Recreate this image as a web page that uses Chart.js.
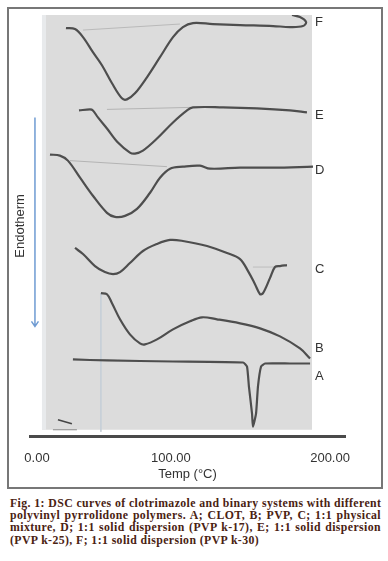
<!DOCTYPE html>
<html>
<head>
<meta charset="utf-8">
<script src="https://cdn.jsdelivr.net/npm/chart.js@4.4.1/dist/chart.umd.min.js"></script>
<style>
  html, body { margin: 0; padding: 0; background: #fff; }
  body { width: 388px; height: 561px; position: relative; overflow: hidden; }
  #frame { position: absolute; left: 7px; top: 7px; width: 372px; height: 478px; border: 2px solid #777; }
  #dsc { position: absolute; left: 0; top: 0; }
  #caption { position: absolute; left: 10px; top: 497px; width: 371px;
    font: bold 11.8px "Liberation Serif", "Times New Roman", serif; letter-spacing: 0.4px;
    color: #4a2212; line-height: 12.2px; }
  #caption div { text-align: justify; text-align-last: justify; white-space: nowrap; }
  #caption div.last { text-align-last: left; }
</style>
</head>
<body>
<div id="frame"></div>
<canvas id="dsc" width="388" height="490"></canvas>
<div id="caption">
  <div>Fig. 1: DSC curves of clotrimazole and binary systems with different</div>
  <div>polyvinyl pyrrolidone polymers. A; CLOT, B; PVP, C; 1:1 physical</div>
  <div>mixture, D; 1:1 solid dispersion (PVP k-17), E; 1:1 solid dispersion</div>
  <div class="last">(PVP k-25), F; 1:1 solid dispersion (PVP k-30)</div>
</div>
<script>
// temperatures (°C) and offset heat flow (arbitrary units)
const tempA = [24.3, 47.3, 91.9, 139.2, 141.9, 143.2, 145.3, 145.9, 148.0, 149.3, 151.4, 154.1, 170.9, 184.5];
const heatA = [7.7, 7.6, 7.5, 7.4, 7.0, 5.0, 2.3, 1.0, 2.3, 5.0, 7.0, 7.3, 7.3, 7.3];

const tempB = [43.2, 47.3, 50.7, 56.1, 62.8, 69.6, 73.0, 81.1, 91.9, 103.4, 111.5, 121.6, 137.2, 150.7, 164.2, 177.7, 184.5];
const heatB = [14.3, 14.2, 13.3, 11.7, 10.2, 9.3, 9.2, 9.7, 10.7, 11.5, 11.9, 11.7, 11.3, 10.8, 10.0, 8.8, 7.8];

const tempC = [25.7, 31.1, 39.2, 45.9, 51.4, 56.1, 62.8, 71.6, 81.1, 89.9, 98.6, 114.9, 128.4, 137.2, 142.6, 147.3, 150.7, 152.7, 157.4, 160.8, 164.2, 168.9];
const heatC = [18.8, 18.2, 17.0, 16.4, 16.2, 16.4, 17.3, 18.5, 19.2, 19.6, 19.5, 19.0, 18.3, 17.7, 16.5, 15.2, 14.2, 14.3, 15.8, 16.9, 17.0, 17.1];

const tempD = [8.8, 15.5, 20.9, 29.1, 37.8, 47.3, 52.7, 59.5, 67.6, 76.4, 83.1, 89.9, 98.6, 110.1, 116.9, 137.2, 159.5, 186.5];
const heatD = [28.1, 28.0, 27.5, 25.8, 24.0, 22.3, 21.9, 22.0, 22.7, 24.3, 25.8, 26.7, 26.9, 27.0, 26.7, 26.8, 26.8, 26.9];

const tempE = [28.4, 35.8, 37.8, 41.2, 47.3, 54.7, 62.8, 66.2, 71.6, 81.1, 91.9, 101.4, 105.4, 125.7, 148.6, 170.9, 182.4];
const heatE = [32.5, 32.6, 32.5, 31.8, 30.7, 29.3, 28.3, 28.2, 28.5, 29.7, 31.3, 32.5, 32.8, 32.8, 32.7, 32.5, 32.3];

const tempF = [19.6, 25.7, 31.1, 37.8, 43.9, 50.7, 57.4, 60.8, 66.2, 74.3, 83.1, 91.9, 98.6, 105.4, 118.9, 137.2, 159.5, 170.9, 179.7, 181.8, 177.7, 172.3];
const heatF = [40.7, 40.6, 39.8, 38.3, 37.0, 35.2, 33.7, 33.6, 34.2, 35.8, 37.8, 39.8, 40.8, 41.2, 41.1, 41.0, 40.9, 40.8, 40.9, 41.3, 41.8, 42.0];

// faint extrapolated baselines under the peaks
const baseTempC = [145.9, 160.8], baseHeatC = [16.9, 16.9];
const baseTempD = [22.3, 87.8], baseHeatD = [27.5, 26.9];
const baseTempE = [47.3, 103.4], baseHeatE = [32.6, 32.8];
const baseTempF = [31.1, 96.6], baseHeatF = [40.5, 41.1];

// scan marks: PVP start spike and the stub at bottom left
const spikeTemp = [43.2, 43.2], spikeHeat = [14.3, 0.5];
const stubTemp = [14.2, 23.6], stubHeat = [1.7, 1.3];
const stubBaseTemp = [10.8, 27.0], stubBaseHeat = [0.7, 0.7];

const curveTags = ['A', 'B', 'C', 'D', 'E', 'F'];
const tagHeat = [6.0, 8.8, 16.7, 26.5, 32.0, 41.3];
const tagTemp = 187.8;

const tickPos = [0, 90.5, 198];
const tickLabels = ['0.00', '100.00', '200.00'];

const pts = (t, h) => t.map((v, i) => ({x: v, y: h[i]}));

const curveColor = '#4e4e4e';
const curves = [[tempA, heatA], [tempB, heatB], [tempC, heatC], [tempD, heatD], [tempE, heatE], [tempF, heatF]];

const datasets = curves.map((c, i) => ({
    label: curveTags[i],
    tag: curveTags[i],
    tagY: tagHeat[i],
    data: pts(c[0], c[1]),
    borderColor: curveColor,
    borderWidth: 2.2,
    tension: i === 0 ? 0.15 : 0.35,
    pointRadius: 0
}));

const faint = (t, h, color) => ({
    data: pts(t, h),
    borderColor: color,
    borderWidth: 1,
    tension: 0,
    pointRadius: 0
});

datasets.push(
    faint(baseTempC, baseHeatC, '#bdbdbd'),
    faint(baseTempD, baseHeatD, '#b4b4b4'),
    faint(baseTempE, baseHeatE, '#b4b4b4'),
    faint(baseTempF, baseHeatF, '#bababa'),
    faint(spikeTemp, spikeHeat, '#c8d0d8'),
    faint(stubBaseTemp, stubBaseHeat, '#8a8a8a'),
    Object.assign(faint(stubTemp, stubHeat, '#444'), {borderWidth: 1.5})
);

const scanPanel = {
    id: 'scanPanel',
    beforeDatasetsDraw(chart) {
        const {ctx, scales: {x, y}} = chart;
        const l = x.getPixelForValue(3.4), r = x.getPixelForValue(185.8);
        const t = y.getPixelForValue(42), b = y.getPixelForValue(0.7);
        ctx.save();
        ctx.fillStyle = '#dcdcdc';
        ctx.fillRect(l, t, r - l, b - t);
        ctx.fillStyle = 'rgba(235,238,240,0.8)';
        ctx.fillRect(l, t, 4, b - t);
        ctx.restore();
    },
    afterDatasetsDraw(chart) {
        const {ctx, scales: {x, y}} = chart;
        ctx.save();
        // endotherm arrow
        const ax = x.getPixelForValue(-1.35);
        const y0 = y.getPixelForValue(31.8), y1 = y.getPixelForValue(11.0);
        ctx.strokeStyle = '#6f9bd2';
        ctx.lineWidth = 1.5;
        ctx.beginPath();
        ctx.moveTo(ax, y0);
        ctx.lineTo(ax, y1);
        ctx.moveTo(ax - 3.5, y1 - 5);
        ctx.lineTo(ax, y1);
        ctx.lineTo(ax + 3.5, y1 - 5);
        ctx.stroke();
        // curve letters
        ctx.fillStyle = '#333';
        ctx.font = '13px "Liberation Sans", Arial, sans-serif';
        ctx.textAlign = 'left';
        ctx.textBaseline = 'middle';
        chart.data.datasets.forEach(ds => {
            if (ds.tag) ctx.fillText(ds.tag, x.getPixelForValue(tagTemp), y.getPixelForValue(ds.tagY));
        });
        ctx.restore();
    }
};

const font = {family: '"Liberation Sans", Arial, sans-serif', size: 13};

new Chart(document.getElementById('dsc'), {
    type: 'line',
    data: {datasets},
    options: {
        responsive: false,
        animation: false,
        devicePixelRatio: 1,
        layout: {padding: {left: 12.4, right: 43, top: 15, bottom: 6}},
        plugins: {legend: {display: false}, tooltip: {enabled: false}},
        scales: {
            x: {
                type: 'linear',
                min: -4.7,
                max: 208.1,
                afterBuildTicks: scale => { scale.ticks = tickPos.map(v => ({value: v})); },
                ticks: {
                    autoSkip: false,
                    maxRotation: 0,
                    padding: 14,
                    color: '#333',
                    font,
                    callback: (v, i) => tickLabels[i]
                },
                grid: {display: false, drawTicks: false},
                border: {display: true, color: '#4a4a4a', width: 3},
                title: {display: true, text: 'Temp (°C)', color: '#333', font, padding: {top: -14, bottom: 2}}
            },
            y: {
                min: 0,
                max: 42,
                ticks: {display: false},
                grid: {display: false, drawTicks: false},
                border: {display: false},
                title: {display: true, text: 'Endotherm', color: '#333', font, padding: {top: 0, bottom: 2}}
            }
        }
    },
    plugins: [scanPanel]
});
</script>
</body>
</html>
